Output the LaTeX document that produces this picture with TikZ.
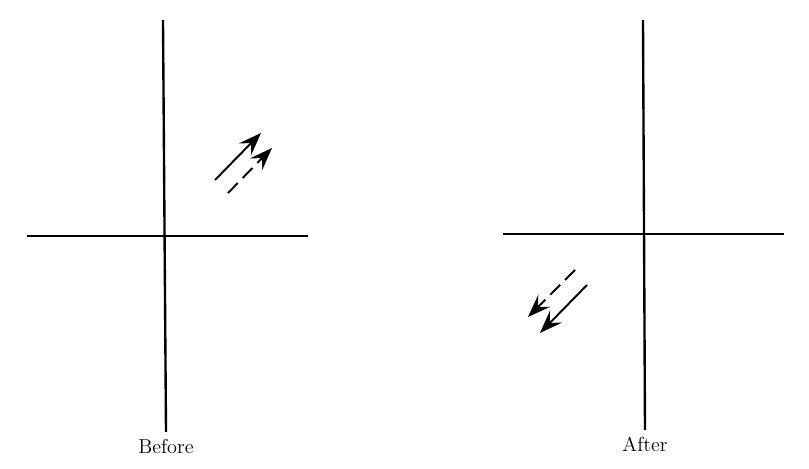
\documentclass[tikz,border=0pt]{standalone}
\usepackage{tikz}
\usetikzlibrary{arrows.meta}

\begin{document}
\begin{tikzpicture}[
  x=0.02cm, y=-0.02cm,
  font=\fontsize{11.5}{13}\selectfont,
  axis/.style={line width=1.35pt, black},
  vec/.style={-{Stealth[length=4.6mm, width=3.4mm, inset=1.8mm]}, line width=1.1pt, black},
  dvec/.style={vec, dash pattern=on 2.8mm off 1.4mm},
  lbl/.style={inner sep=0pt, anchor=base},
]
\useasboundingbox (0,0) rectangle (809,469);

% before
\coordinate (BT) at (163,20);
\coordinate (BB) at (166,432);
\coordinate (BL) at (27,236);
\coordinate (BR) at (308,236);
\draw[axis] (BT) -- (BB);
\draw[axis] (BL) -- (BR);
\coordinate (B1s) at (215,180);
\coordinate (B1e) at (261,133);
\coordinate (B2s) at (228,193);
\coordinate (B2e) at (272,148);
\draw[vec] (B1s) -- (B1e);
\draw[dvec] (B2s) -- (B2e);
\node[lbl] (before) at (166,454) {Before};

% after
\coordinate (AT) at (643,20);
\coordinate (AB) at (645,430);
\coordinate (AL) at (503,234);
\coordinate (AR) at (784,234);
\draw[axis] (AT) -- (AB);
\draw[axis] (AL) -- (AR);
\coordinate (A1s) at (575,270);
\coordinate (A1e) at (528,317);
\coordinate (A2s) at (587,285);
\coordinate (A2e) at (540,333);
\draw[dvec] (A1s) -- (A1e);
\draw[vec] (A2s) -- (A2e);
\node[lbl] (after) at (645,452) {After};
\end{tikzpicture}
\end{document}
